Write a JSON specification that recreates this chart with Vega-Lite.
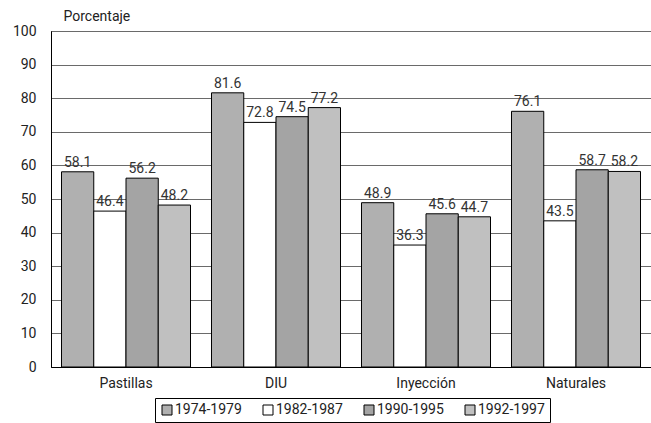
{
  "$schema": "https://vega.github.io/schema/vega-lite/v6.json",
  "width": 600,
  "height": 336,
  "autosize": {"type": "none"},
  "padding": {"left": 51, "top": 31, "right": 0, "bottom": 56},
  "background": "white",
  "config": {
    "font": "Roboto",
    "view": {"stroke": "black", "strokeWidth": 1},
    "axis": {"labelFont": "Roboto", "labelFontSize": 14, "labelColor": "#222", "titleFont": "Roboto", "titleFontSize": 14, "titleFontWeight": "normal", "titleColor": "#222"},
    "legend": {"labelFont": "Roboto", "labelFontSize": 14, "labelColor": "#222"}
  },
  "data": {
    "values": [
      {"metodo": "Pastillas", "periodo": "1974-1979", "valor": 58.1},
      {"metodo": "Pastillas", "periodo": "1982-1987", "valor": 46.4},
      {"metodo": "Pastillas", "periodo": "1990-1995", "valor": 56.2},
      {"metodo": "Pastillas", "periodo": "1992-1997", "valor": 48.2},
      {"metodo": "DIU", "periodo": "1974-1979", "valor": 81.6},
      {"metodo": "DIU", "periodo": "1982-1987", "valor": 72.8},
      {"metodo": "DIU", "periodo": "1990-1995", "valor": 74.5},
      {"metodo": "DIU", "periodo": "1992-1997", "valor": 77.2},
      {"metodo": "Inyección", "periodo": "1974-1979", "valor": 48.9},
      {"metodo": "Inyección", "periodo": "1982-1987", "valor": 36.3},
      {"metodo": "Inyección", "periodo": "1990-1995", "valor": 45.6},
      {"metodo": "Inyección", "periodo": "1992-1997", "valor": 44.7},
      {"metodo": "Naturales", "periodo": "1974-1979", "valor": 76.1},
      {"metodo": "Naturales", "periodo": "1982-1987", "valor": 43.5},
      {"metodo": "Naturales", "periodo": "1990-1995", "valor": 58.7},
      {"metodo": "Naturales", "periodo": "1992-1997", "valor": 58.2}
    ]
  },
  "encoding": {
    "x": {
      "field": "metodo", "type": "nominal", "sort": ["Pastillas", "DIU", "Inyección", "Naturales"],
      "scale": {"paddingInner": 0.14, "paddingOuter": 0.07},
      "axis": {"title": null, "labelAngle": 0, "ticks": false, "domainColor": "black", "labelPadding": 9, "grid": false}
    },
    "xOffset": {"field": "periodo", "type": "nominal", "sort": ["1974-1979", "1982-1987", "1990-1995", "1992-1997"], "scale": {"paddingInner": 0, "paddingOuter": 0}},
    "y": {
      "field": "valor", "type": "quantitative",
      "scale": {"domain": [0, 100], "nice": false},
      "axis": {"values": [0, 10, 20, 30, 40, 50, 60, 70, 80, 90, 100], "title": "Porcentaje", "titleAngle": 0, "titleAlign": "left", "titleX": 12, "titleY": -11, "titleBaseline": "alphabetic", "ticks": false, "labelPadding": 15, "domainColor": "black", "gridColor": "#6a6a6a", "gridWidth": 1}
    }
  },
  "layer": [
    {
      "mark": {"type": "bar", "stroke": "black", "strokeWidth": 1},
      "encoding": {
        "fill": {
          "field": "periodo", "type": "nominal",
          "scale": {"domain": ["1974-1979", "1982-1987", "1990-1995", "1992-1997"], "range": ["#b0b0b0", "#ffffff", "#a4a4a4", "#c0c0c0"]},
          "legend": {"title": null, "orient": "none", "legendX": 104, "legendY": 367, "direction": "horizontal", "symbolType": "square", "symbolSize": 100, "symbolStrokeColor": "black", "symbolStrokeWidth": 1, "strokeColor": "black", "padding": 5, "columnPadding": 19, "labelOffset": 1}
        }
      }
    },
    {
      "mark": {"type": "text", "dy": -9, "fontSize": 14, "color": "#333", "font": "Roboto"},
      "encoding": {"text": {"field": "valor", "type": "quantitative", "format": ".1f"}}
    }
  ]
}
